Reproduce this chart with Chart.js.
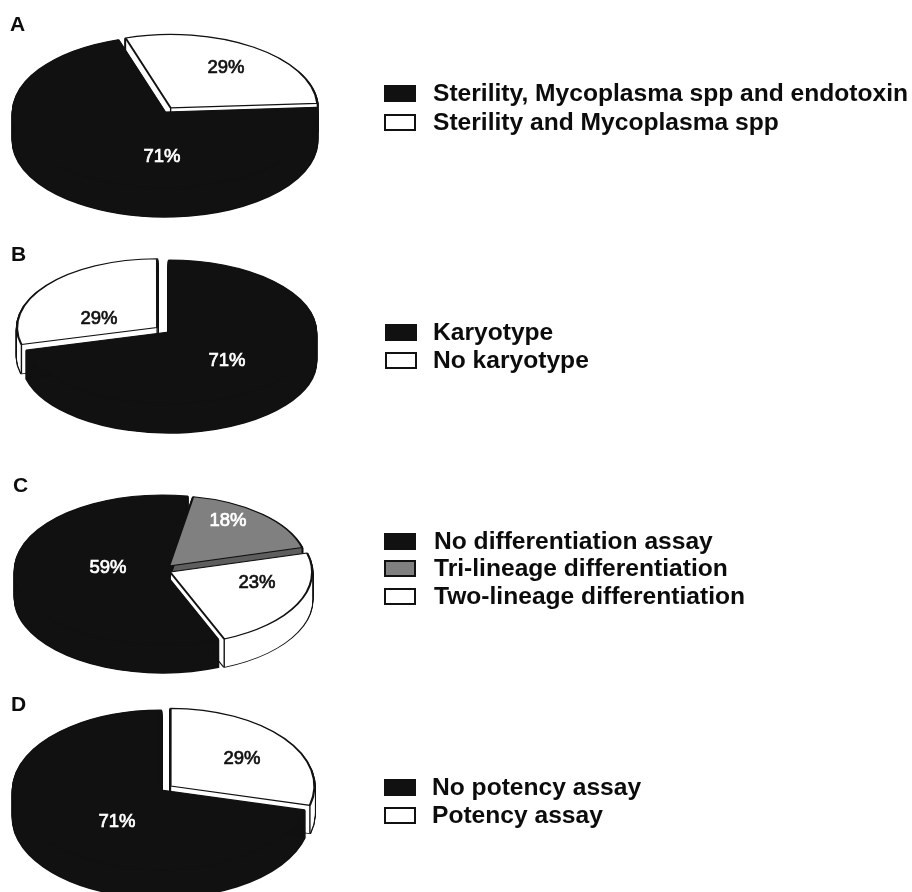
<!DOCTYPE html>
<html>
<head>
<meta charset="utf-8">
<title>Release testing pies</title>
<script src="https://cdn.jsdelivr.net/npm/chart.js@4/dist/chart.umd.min.js"></script>
<style>
  html, body { margin: 0; padding: 0; background: #fff; width: 912px; height: 892px; overflow: hidden; }
  #page { position: relative; width: 912px; height: 892px; overflow: hidden; filter: blur(0.6px); font-family: "Liberation Sans", Arial, sans-serif; color: #0c0c0c; }
  canvas { position: absolute; }
  .letter { position: absolute; font-size: 21px; font-weight: bold; line-height: 22px; }
  .swatch { position: absolute; box-sizing: border-box; width: 32px; height: 17px; border: 2px solid #111; }
  .entry { position: absolute; font-size: 24.6px; font-weight: bold; line-height: 28px; white-space: nowrap; }
</style>
</head>
<body>
<div id="page"></div>
<script>
const BLACK = '#111111';
const GREY = '#808080';
const WHITE = '#ffffff';
const LINE = '#111111';

const labelsA = ['Sterility, Mycoplasma spp and endotoxin', 'Sterility and Mycoplasma spp'];
const valuesA = [71, 29];
const labelsB = ['Karyotype', 'No karyotype'];
const valuesB = [71, 29];
const labelsC = ['No differentiation assay', 'Tri-lineage differentiation', 'Two-lineage differentiation'];
const valuesC = [59, 18, 23];
const labelsD = ['No potency assay', 'Potency assay'];
const valuesD = [71, 29];

const panels = [
  {
    letter: 'A', letterX: 10, letterY: 13,
    labels: labelsA, values: valuesA,
    colors: [BLACK, WHITE], walls: [BLACK, WHITE], textColors: [WHITE, BLACK],
    cx: 165, cy: 112, radius: 152, squash: 0.5, depth: 29, rotation: 86.5,
    offsets: [0, 40], sizes: [1, 0.965],
    textAt: [[162, 157], [226, 68]],
    legendX: 433, legendY: [93, 122], swatchX: 384
  },
  {
    letter: 'B', letterX: 11, letterY: 243,
    labels: labelsB, values: valuesB,
    colors: [BLACK, WHITE], walls: [BLACK, WHITE], textColors: [WHITE, BLACK],
    cx: 169, cy: 332, radius: 147, squash: 0.49, depth: 29, rotation: 0,
    offsets: [0, 60], sizes: [1, 0.95],
    textAt: [[227, 361], [99, 319]],
    legendX: 433, legendY: [332, 360], swatchX: 385
  },
  {
    letter: 'C', letterX: 13, letterY: 474,
    labels: labelsC, values: valuesC,
    colors: [BLACK, GREY, WHITE], walls: [BLACK, '#5e5e5e', WHITE], textColors: [WHITE, WHITE, BLACK],
    cx: 162, cy: 570, radius: 147, squash: 0.51, depth: 28, rotation: 157.6,
    offsets: [0, 42, 36], sizes: [1, 0.932, 0.966],
    textAt: [[108, 568], [228, 521], [257, 583]],
    legendX: 434, legendY: [541, 568, 596], swatchX: 384
  },
  {
    letter: 'D', letterX: 11, letterY: 693,
    labels: labelsD, values: valuesD,
    colors: [BLACK, WHITE], walls: [BLACK, WHITE], textColors: [WHITE, BLACK],
    cx: 161, cy: 790, radius: 148, squash: 0.54, depth: 28, rotation: 104.4,
    offsets: [0, 48], sizes: [1, 0.97],
    textAt: [[117, 822], [242, 759]],
    legendX: 432, legendY: [787, 815], swatchX: 384
  }
];

const CANVAS_SIZE = 340;
const page = document.getElementById('page');

// same arc element, only painted with other fill and border
function restyled(arc, fill, stroke, width) {
  return Object.create(arc, {
    options: {
      value: {
        backgroundColor: fill, borderColor: stroke, borderWidth: width,
        offset: arc.options.offset, spacing: 0, circular: true, borderAlign: 'center',
        borderJoinStyle: 'round', borderRadius: 0, borderDash: [], borderDashOffset: 0
      }
    }
  });
}

function pie3d(panel) {
  const s = panel.squash;

  function squashed(ctx, arc, down, paint) {
    ctx.save();
    ctx.translate(0, arc.y + down);
    ctx.scale(1, s);
    ctx.translate(0, -arc.y);
    paint();
    ctx.restore();
  }

  // outer corners and apex of a slice, as the arc element draws them
  function corners(arc) {
    const off = (arc.options.offset || 0) / 4;
    const mid = (arc.startAngle + arc.endAngle) / 2;
    const fix = 1 - Math.sin(Math.min(Math.PI, arc.circumference));
    const x = arc.x + Math.cos(mid) * off;
    const y = arc.y + Math.sin(mid) * off;
    const r = arc.outerRadius + off * fix;
    return [[x, y],
      [x + Math.cos(arc.startAngle) * r, y + Math.sin(arc.startAngle) * r],
      [x + Math.cos(arc.endAngle) * r, y + Math.sin(arc.endAngle) * r]];
  }

  return {
    id: 'pie3d',
    afterDatasetsUpdate(chart) {
      chart.getDatasetMeta(0).data.forEach((arc, i) => {
        arc.outerRadius = panel.radius * panel.sizes[i];
      });
    },
    beforeDatasetsDraw(chart) {
      const ctx = chart.ctx;
      const arcs = chart.getDatasetMeta(0).data;
      // light slices first, the big black one covers their walls
      const order = arcs.map((a, i) => i).slice(1).concat(0);
      order.forEach(i => {
        const arc = arcs[i];
        const outline = restyled(arc, LINE, LINE, 2.8);
        const wall = restyled(arc, panel.walls[i], panel.walls[i], 0);
        for (let d = 1; d <= panel.depth; d++) squashed(ctx, arc, d, () => outline.draw(ctx));
        for (let d = 1; d <= panel.depth; d++) squashed(ctx, arc, d, () => wall.draw(ctx));
        ctx.strokeStyle = LINE;
        ctx.lineWidth = 1.4;
        corners(arc).forEach(p => {
          const y = arc.y + (p[1] - arc.y) * s;
          ctx.beginPath();
          ctx.moveTo(p[0], y);
          ctx.lineTo(p[0], y + panel.depth);
          ctx.stroke();
        });
      });
      ctx.save();
      ctx.translate(0, arcs[0].y);
      ctx.scale(1, s);
      ctx.translate(0, -arcs[0].y);
    },
    afterDatasetsDraw(chart) {
      chart.ctx.restore();
    },
    afterDraw(chart) {
      const ctx = chart.ctx;
      const left = panel.cx - CANVAS_SIZE / 2;
      const top = panel.cy - CANVAS_SIZE / 2;
      ctx.save();
      ctx.font = '18.5px "Liberation Sans", Arial, sans-serif';
      ctx.textAlign = 'center';
      ctx.textBaseline = 'middle';
      ctx.lineWidth = 0.7;
      panel.values.forEach((v, i) => {
        const x = panel.textAt[i][0] - left;
        const y = panel.textAt[i][1] - top;
        ctx.fillStyle = panel.textColors[i];
        ctx.strokeStyle = panel.textColors[i];
        ctx.fillText(v + '%', x, y);
        ctx.strokeText(v + '%', x, y);
      });
      ctx.restore();
    }
  };
}

panels.forEach(panel => {
  const canvas = document.createElement('canvas');
  canvas.width = CANVAS_SIZE;
  canvas.height = CANVAS_SIZE;
  canvas.style.left = (panel.cx - CANVAS_SIZE / 2) + 'px';
  canvas.style.top = (panel.cy - CANVAS_SIZE / 2) + 'px';
  page.appendChild(canvas);

  new Chart(canvas, {
    type: 'pie',
    data: {
      labels: panel.labels,
      datasets: [{
        data: panel.values,
        backgroundColor: panel.colors,
        borderColor: LINE,
        borderWidth: 2.2,
        offset: panel.offsets,
        clip: false
      }]
    },
    options: {
      responsive: false,
      animation: false,
      events: [],
      rotation: panel.rotation,
      radius: panel.radius,
      layout: { padding: 0 },
      plugins: { legend: { display: false }, tooltip: { enabled: false } }
    },
    plugins: [pie3d(panel)]
  });

  const letter = document.createElement('div');
  letter.className = 'letter';
  letter.textContent = panel.letter;
  letter.style.left = panel.letterX + 'px';
  letter.style.top = panel.letterY + 'px';
  page.appendChild(letter);

  panel.labels.forEach((text, i) => {
    const box = document.createElement('div');
    box.className = 'swatch';
    box.style.left = panel.swatchX + 'px';
    box.style.top = (panel.legendY[i] - 8) + 'px';
    box.style.background = panel.colors[i];
    page.appendChild(box);

    const entry = document.createElement('div');
    entry.className = 'entry';
    entry.textContent = text;
    entry.style.left = panel.legendX + 'px';
    entry.style.top = (panel.legendY[i] - 14) + 'px';
    page.appendChild(entry);
  });
});
</script>
</body>
</html>
